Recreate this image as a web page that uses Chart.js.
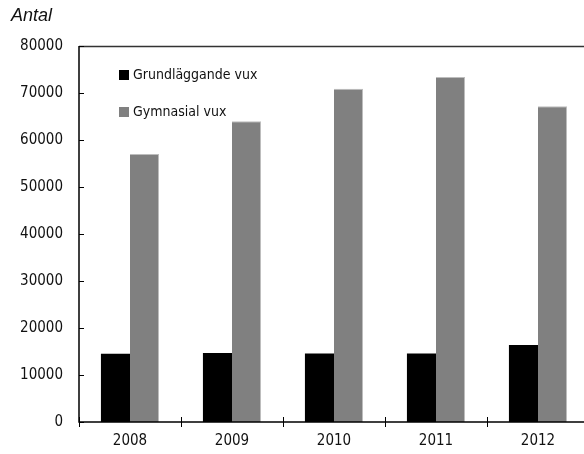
<!DOCTYPE html>
<html>
<head>
<meta charset="utf-8">
<script src="https://cdn.jsdelivr.net/npm/chart.js@4"></script>
<style>
  html, body { margin: 0; padding: 0; background: #fff; overflow: hidden; }
  #wrap { width: 590px; height: 454px; }
</style>
</head>
<body>
<div id="wrap"><canvas id="chart" width="590" height="454"></canvas></div>
<script>
// ---- data ----
const years = ['2008', '2009', '2010', '2011', '2012'];
const grundlaggande = [14500, 14700, 14600, 14600, 16400];
const gymnasial = [57000, 64000, 70900, 73400, 67200];
const seriesNames = ['Grundläggande vux', 'Gymnasial vux'];
const yTicks = [0, 10000, 20000, 30000, 40000, 50000, 60000, 70000, 80000];
const yTitle = 'Antal';

const FONT = "'Liberation Sans Narrow', 'DejaVu Sans Condensed', 'Arial Narrow', sans-serif";

// axes, ticks, title and legend drawn by hand
const decor = {
    id: 'decor',
    afterDraw(chart) {
        const ctx = chart.ctx;
        const a = chart.chartArea;
        const y = chart.scales.y;
        ctx.save();

        // top border
        ctx.strokeStyle = '#333';
        ctx.lineWidth = 1.5;
        ctx.beginPath();
        ctx.moveTo(a.left, a.top + 0.5);
        ctx.lineTo(chart.width, a.top + 0.5);
        ctx.stroke();

        // axis lines
        ctx.strokeStyle = '#000';
        ctx.lineWidth = 1.5;
        ctx.beginPath();
        ctx.moveTo(a.left, a.top);
        ctx.lineTo(a.left, a.bottom);
        ctx.lineTo(chart.width, a.bottom);
        ctx.stroke();

        // y ticks (inside)
        ctx.lineWidth = 1;
        yTicks.forEach(v => {
            const py = Math.round(y.getPixelForValue(v)) + 0.5;
            ctx.beginPath();
            ctx.moveTo(a.left, py);
            ctx.lineTo(a.left + 5, py);
            ctx.stroke();
        });

        // x ticks at category borders (crossing)
        const step = (a.right - a.left) / years.length;
        for (let i = 0; i <= years.length; i++) {
            const px = Math.round(a.left + i * step) + 0.5;
            ctx.beginPath();
            ctx.moveTo(px, a.bottom - 5);
            ctx.lineTo(px, a.bottom + 5);
            ctx.stroke();
        }

        // title
        ctx.fillStyle = '#111';
        ctx.font = "italic 18px 'Liberation Sans', Arial, sans-serif";
        ctx.textBaseline = 'middle';
        ctx.textAlign = 'left';
        ctx.fillText(yTitle, 11, 16);

        // legend
        const colors = ['#000000', '#808080'];
        ctx.font = '14px ' + FONT;
        seriesNames.forEach((name, i) => {
            const ly = 75 + i * 37;
            ctx.fillStyle = colors[i];
            ctx.fillRect(119, ly - 5, 10, 10);
            ctx.fillStyle = '#111';
            ctx.fillText(name, 133, ly);
        });

        ctx.restore();
    }
};

new Chart(document.getElementById('chart'), {
    type: 'bar',
    data: {
        labels: years,
        datasets: [
            {
                label: seriesNames[0],
                data: grundlaggande,
                backgroundColor: '#000000',
                borderWidth: 0,
                categoryPercentage: 0.57,
                barPercentage: 1.0
            },
            {
                label: seriesNames[1],
                data: gymnasial,
                backgroundColor: '#808080',
                borderColor: '#bdbdbd',
                borderWidth: { top: 1, right: 1, left: 0, bottom: 0 },
                categoryPercentage: 0.57,
                barPercentage: 1.0
            }
        ]
    },
    options: {
        responsive: false,
        animation: false,
        layout: { padding: { top: 46, right: 1, left: 0, bottom: 0 } },
        plugins: {
            legend: { display: false },
            tooltip: { enabled: false }
        },
        scales: {
            x: {
                grid: { display: false, drawTicks: false },
                border: { display: false },
                ticks: {
                    color: '#111',
                    font: { family: FONT, size: 15 },
                    padding: 10
                },
                afterFit: s => { s.height = 32; }
            },
            y: {
                min: 0,
                max: 80000,
                afterBuildTicks: s => { s.ticks = yTicks.map(v => ({ value: v })); },
                grid: { display: false, drawTicks: false },
                border: { display: false },
                ticks: {
                    color: '#111',
                    font: { family: FONT, size: 15 },
                    padding: 16,
                    callback: v => String(v)
                },
                afterFit: s => { s.width = 79; }
            }
        }
    },
    plugins: [decor]
});
</script>
</body>
</html>
